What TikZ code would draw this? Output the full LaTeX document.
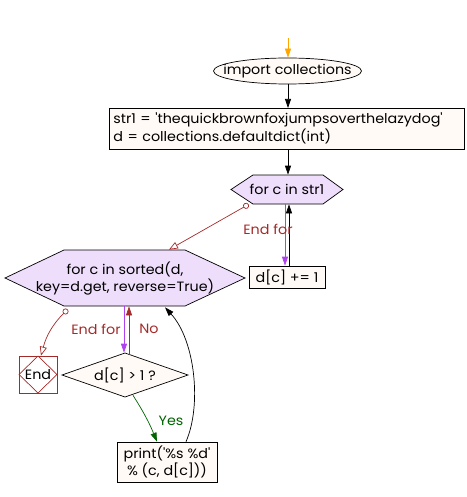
\documentclass[tikz,border=0pt]{standalone}
\usepackage{fontspec}
\setmainfont{Poppins}[FakeStretch=1.06, Ligatures=TeXOff]
\usetikzlibrary{arrows.meta,calc,shapes.geometric}
\definecolor{cream}{HTML}{FFFAF5}
\definecolor{lav}{HTML}{EEDDFB}
\definecolor{redb}{HTML}{A52A2A}
\definecolor{grn}{HTML}{006400}
\definecolor{purp}{HTML}{B040F0}
\definecolor{orng}{HTML}{FFA500}
\begin{document}
\begin{tikzpicture}[x=1pt,y=-1pt,
  every node/.style={font=\fontsize{13.5}{18}\selectfont, inner sep=0pt},
  line width=0.7pt,
  procbox/.style={draw, fill=cream, rectangle},
  blk/.style={-{Triangle[length=9pt,width=6pt]}},
  lbl/.style={font=\fontsize{13.5}{16}\selectfont}
]
\useasboundingbox (0,0) rectangle (466,497);

% shapes
\filldraw[fill=cream] (287.5,71) ellipse [x radius=74, y radius=13];
\node[minimum width=148, minimum height=26] (imp) at (287.5,71) {import collections};
\node[procbox, anchor=north west, minimum width=355, minimum height=41, text width=347, inner xsep=4pt, align=left] (init) at (109,108) {str1 = 'thequickbrownfoxjumpsoverthelazydog'\\d = collections.defaultdict(int)};

\fill[lav] (231,189.5) -- (253,175) -- (323,175) -- (343,189.5) -- (323,204) -- (253,204) -- cycle;
\draw (231,189.5) -- (253,175) -- (323,175) -- (343,189.5) -- (323,204) -- (253,204) -- cycle;
\node[minimum width=112, minimum height=29] (loopa) at (287,189.5) {for c in str1};

\node[procbox, minimum width=76, minimum height=22] (inc) at (287,277) {d[c] += 1};

\fill[lav] (5,278) -- (64,250) -- (185,250) -- (245,278) -- (185,306) -- (64,306) -- cycle;
\draw (5,278) -- (64,250) -- (185,250) -- (245,278) -- (185,306) -- (64,306) -- cycle;
\node[minimum width=240, minimum height=56, align=center, font=\fontsize{13.5}{17}\selectfont] (loopb) at (125,279) {for c in sorted(d,\\key=d.get, reverse=True)};

\fill[cream] (62,375) -- (125,353) -- (188,375) -- (125,397) -- cycle;
\draw (62,375) -- (125,353) -- (188,375) -- (125,397) -- cycle;
\node[minimum width=126, minimum height=44] (dec) at (125,375) {d[c] > 1 ?};

\node[procbox, minimum width=100, minimum height=40, align=center, font=\fontsize{13.5}{17}\selectfont] (prt) at (167,462) {print('\%s \%d'\\\% (c, d[c]))};

\draw[redb] (19,356) rectangle (57,393);
\draw[redb] (19,374.5) -- (38,356) -- (57,374.5) -- (38,393) -- cycle;
\node[minimum width=38, minimum height=37] (endn) at (38,374.5) {End};

% connectors
\coordinate (start) at (288,38);
\draw[orng, -{Triangle[length=9pt,width=6pt]}] (start) -- (imp.north -| start);
\draw[blk] (imp.south -| start) -- (init.north -| start);
\draw[blk] (init.south -| start) -- (loopa.north -| start);
\draw[purp, -{Triangle[length=9pt,width=6pt]}] ($(loopa.south)+(-2,0)$) -- ($(inc.north)+(-2,0)$);
\draw[blk] ($(inc.north)+(2,0)$) -- ($(loopa.south)+(2,0)$);
\draw[redb, {Circle[open,length=6pt]}-{Triangle[open,length=9pt,width=7pt]}] ($(loopa.south west)+(18,0)$) -- ($(loopb.north)+(44,-1)$);
\node[lbl, text=redb] (ef1) at (268,229) {End for};

\draw[purp, -{Triangle[length=9pt,width=6pt]}] ($(loopb.south)+(-1,-1)$) -- ($(dec.north)+(-1,0)$);
\draw[redb, -{Triangle[length=9pt,width=6pt]}] ($(dec.north)+(4,2)$) -- ($(loopb.south)+(4,-1)$);
\node[lbl, text=redb] (ef2) at (96,329) {End for};
\node[lbl, text=redb] (no) at (149,329) {No};

\draw[redb, {Circle[open,length=6pt]}-{Triangle[open,length=9pt,width=7pt]}] ($(loopb.south west)+(63,2)$) to[bend right=15] ($(endn.north)+(3,0)$);

\draw[grn, -{Triangle[length=9pt,width=6pt]}] ($(dec.south)+(8,-2)$) to[bend left=5] ($(prt.north)+(-10,0)$);
\node[lbl, text=grn] (yes) at (171,421) {Yes};

\draw[blk] ($(prt.north)+(19,0)$) .. controls (202,405) and (195,340) .. ($(loopb.south)+(40,0)$);
\end{tikzpicture}
\end{document}
